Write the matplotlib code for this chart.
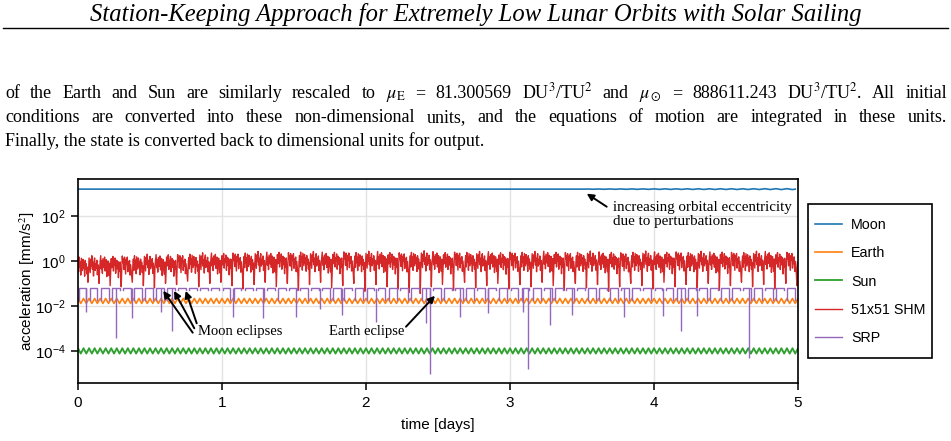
import numpy as np
import matplotlib.pyplot as plt
from matplotlib.patches import Rectangle
from matplotlib.ticker import NullLocator

plt.rcParams['font.family'] = ['Liberation Sans', 'DejaVu Sans']
plt.rcParams['mathtext.fontset'] = 'stix'

# ---- data (log10 of acceleration in mm/s^2) ----
n_days = 5
n_orbits = 65

labels = ['Moon', 'Earth', 'Sun', '51x51 SHM', 'SRP']
colors = ['#1f77b4', '#ff7f0e', '#2ca02c', '#d62728', '#9467bd']

# Moon: central gravity with a small ripple growing late in the run
moon_level = 3.19
moon_wave = [1, 0, -1, 0]
moon_ripple = [0.0] * 43 + [0.002, 0.003, 0.004, 0.005, 0.006, 0.007, 0.008, 0.009,
                            0.010, 0.011, 0.012, 0.012, 0.013, 0.014, 0.014, 0.015,
                            0.016, 0.016, 0.017, 0.018, 0.019, 0.020]

# Earth and Sun third-body terms, two tidal cycles per orbit
earth_orbit = [-1.67, -1.78, -1.89, -1.78, -1.67, -1.78, -1.89, -1.78]
sun_orbit = [-3.88, -4.00, -4.12, -4.00, -3.88, -4.00, -4.12, -4.00]

# 51x51 spherical harmonics: jagged orbit shapes (index 18 is the dip),
# per-orbit level and dip depth
shm_shapes = [
    [0.20, -0.30, 0.35, -0.10, 0.15, -0.45, 0.30, 0.00, -0.25, 0.25,
     -0.15, 0.10, -0.50, 0.20, -0.20, 0.05, -0.40, -0.10, -1.0, -0.30],
    [0.30, 0.00, -0.35, 0.25, -0.05, 0.40, -0.20, 0.10, -0.50, 0.15,
     0.30, -0.25, 0.05, -0.15, 0.20, -0.45, 0.00, -0.30, -1.0, -0.15],
    [0.10, 0.38, -0.20, 0.15, -0.40, 0.25, 0.05, -0.15, 0.32, -0.30,
     0.00, 0.20, -0.55, -0.05, 0.15, -0.25, -0.50, 0.05, -1.0, -0.40],
    [0.25, -0.15, 0.05, 0.35, -0.30, 0.10, -0.05, 0.28, -0.40, 0.00,
     0.18, -0.20, 0.12, -0.60, 0.05, -0.30, 0.10, -0.45, -1.0, -0.20],
    [0.35, 0.05, 0.22, -0.25, 0.30, -0.10, -0.45, 0.20, 0.00, 0.30,
     -0.35, 0.08, -0.15, 0.15, -0.50, -0.05, -0.30, -0.60, -1.0, -0.10],
]
shm_level = [-0.18, -0.17, -0.15, -0.15, -0.13, -0.12, -0.10, -0.10,
             -0.08, -0.07, -0.05, -0.04, -0.03, -0.02, 0.00, 0.00,
             0.02, 0.01, 0.03, 0.02, 0.04, 0.02, 0.01, 0.03, 0.05, 0.02,
             0.03, 0.04, 0.02, 0.01, 0.03, 0.05, 0.03, 0.02, 0.04, 0.03,
             0.02, 0.03, 0.01, 0.04, 0.03, 0.02, 0.05, 0.03, 0.02, 0.03,
             0.04, 0.02, 0.03, 0.01, 0.03, 0.04, 0.02, 0.03, 0.05, 0.02,
             0.03, 0.02, 0.04, 0.03, 0.02, 0.03, 0.04, 0.02, 0.03]
shm_dip = [-0.95, -1.00, -1.10, -1.15, -0.95, -1.10, -1.20, -1.00, -1.05, -0.90,
           -1.15, -1.00, -0.95, -1.10, -1.25, -1.05, -0.95, -1.15, -1.00, -1.30,
           -1.05, -0.95, -1.20, -1.10, -1.00, -1.35, -1.05, -1.15, -1.25, -1.40,
           -1.45, -1.15, -1.05, -1.30, -0.95, -1.20, -1.10, -1.00, -1.25, -1.05,
           -1.15, -0.95, -1.10, -1.30, -1.00, -1.20, -1.05, -1.35, -1.15, -1.00,
           -1.10, -1.25, -0.95, -1.15, -1.05, -1.20, -1.00, -1.30, -1.10, -0.95,
           -1.15, -1.05, -1.25, -1.00, -1.10]

# SRP: one sunlit arc per orbit, legs at shadow exit / entry, deep penumbra spikes
srp_top = -1.20
srp_arc = (0.05, 0.76)
srp_leg_in = [-1.72, -1.72, -1.72, -1.72, -1.30, -1.72, -1.72, -1.72, -1.72, -1.30,
              -1.30, -1.30, -1.30, -1.30, -1.72, -1.30, -1.30, -1.30, -1.72, -1.30,
              -1.30, -1.30, -1.30, -1.72, -1.72, -1.72, -1.72, -1.30, -1.72, -1.30,
              -1.72, -1.72, -1.30, -1.72, -1.30, -1.72, -1.30, -1.72, -1.72, -1.30,
              -1.72, -1.72, -1.30, -1.72, -1.30, -1.30, -1.72, -1.72, -1.72, -1.30,
              -1.72, -1.30, -1.30, -1.30, -1.72, -1.72, -1.30, -1.72, -1.72, -1.72,
              -1.30, -1.72, -1.30, -1.72, -1.72]
srp_leg_out = [-1.72, -1.72, -1.72, -1.30, -1.72, -1.72, -1.72, -1.72, -1.30, -1.30,
               -1.30, -1.30, -1.30, -1.72, -1.30, -1.30, -1.72, -1.30, -1.30, -1.30,
               -1.72, -1.30, -1.72, -1.72, -1.30, -1.72, -1.30, -1.72, -1.72, -1.72,
               -1.30, -1.72, -1.72, -1.30, -1.72, -1.72, -1.72, -1.30, -1.72, -1.72,
               -1.30, -1.72, -1.72, -1.30, -1.72, -1.30, -1.72, -1.30, -1.72, -1.72,
               -1.30, -1.72, -1.30, -1.72, -1.72, -1.30, -1.72, -1.30, -1.72, -1.30,
               -1.72, -1.72, -1.72, -1.30, -1.72]
spike_days = [0.056, 0.262, 0.373, 0.576, 0.653, 1.076, 1.285, 1.514, 1.681, 1.831,
              2.069, 2.417, 2.444, 2.653, 2.847, 3.088, 3.123, 3.278, 3.428, 3.792,
              4.060, 4.185, 4.297, 4.658]
spike_log = [-2.25, -3.42, -2.53, -2.25, -3.10, -2.50, -2.55, -2.48, -2.15, -2.40,
             -2.70, -2.76, -5.02, -2.50, -2.30, -2.25, -4.80, -2.84, -2.40, -2.49,
             -2.45, -3.10, -2.45, -4.31]

x_ticks = [0, 1, 2, 3, 4, 5]
y_ticks = [1e-4, 1e-2, 1e0, 1e2]

# ---- build series ----
P = n_days / n_orbits


def tiled(orbit_vals):
    n = len(orbit_vals)
    t = np.arange(n_orbits * n + 1) * P / n
    v = np.array(list(orbit_vals) * n_orbits + [orbit_vals[0]])
    return t, v


moon_vals = []
for amp in moon_ripple:
    moon_vals += [moon_level + amp * w for w in moon_wave]
moon_t = np.arange(len(moon_vals)) * P / len(moon_wave)
moon_vals = np.array(moon_vals)

earth_t, earth_v = tiled(earth_orbit)
sun_t, sun_v = tiled(sun_orbit)

n_shm = len(shm_shapes[0])
shm_vals = []
for i in range(n_orbits):
    s = [x + shm_level[i] for x in shm_shapes[i % len(shm_shapes)]]
    s[18] = shm_dip[i]
    shm_vals += s
shm_t = np.arange(len(shm_vals)) * P / n_shm
shm_vals = np.array(shm_vals)

srp_t, srp_v = [], []
for k in range(n_orbits):
    t0 = (k + srp_arc[0]) * P
    t1 = (k + srp_arc[1]) * P
    srp_t += [t0, t0, t1, t1, np.nan]
    srp_v += [srp_leg_in[k], srp_top, srp_top, srp_leg_out[k], np.nan]
srp_t = np.array(srp_t)
srp_v = np.array(srp_v)

# ---- figure ----
W, H = 951, 441
fig = plt.figure(figsize=(W / 100, H / 100), dpi=100)

ax = fig.add_axes([78 / W, 1 - 383.3 / H, 720 / W, (383.3 - 179) / H])
ax.plot(moon_t, 10 ** moon_vals, color=colors[0], lw=1.2, label=labels[0])
ax.plot(earth_t, 10 ** earth_v, color=colors[1], lw=1.2, label=labels[1])
ax.plot(sun_t, 10 ** sun_v, color=colors[2], lw=1.3, label=labels[2])
ax.plot(shm_t, 10 ** shm_vals, color=colors[3], lw=1.0, label=labels[3])
ax.plot(srp_t, 10 ** srp_v, color=colors[4], lw=1.0, label=labels[4])
ax.vlines(spike_days, 10 ** np.array(spike_log), 10 ** srp_top, color=colors[4], lw=1.0)

ax.set_yscale('log')
ax.set_xlim(0, 5)
ax.set_ylim(10 ** -5.44, 10 ** 3.64)
ax.set_xticks(x_ticks)
ax.set_yticks(y_ticks)
ax.yaxis.set_minor_locator(NullLocator())
ax.grid(True, color='#e3e3e3', lw=1.0)
ax.set_axisbelow(True)
for sp in ax.spines.values():
    sp.set_linewidth(1.2)
ax.tick_params(direction='out', length=5, width=1.1, labelsize=11, pad=4)
ax.set_xlabel('time [days]', fontsize=11, labelpad=6)
ax.set_ylabel('acceleration [mm/s$^2$]', fontsize=11, labelpad=-2)

# legend: entries without frame, box drawn separately
leg = ax.legend(loc='center left', bbox_to_anchor=(815 / W, 1 - 281.5 / H),
                bbox_transform=fig.transFigure, borderaxespad=0, borderpad=0,
                fontsize=10.3, frameon=False, handlelength=1.9,
                handletextpad=0.62, labelspacing=0.98)
fig.add_artist(Rectangle((808 / W, 1 - 358 / H), 124 / W, 154 / H,
                         transform=fig.transFigure, fill=False,
                         edgecolor='black', lw=1.2))

# annotations
serif = ['Liberation Serif', 'DejaVu Serif']
arrow = dict(arrowstyle='-|>', color='black', lw=1.4, mutation_scale=10,
             shrinkA=0, shrinkB=0)


def px(x, y):
    return (x, H - y)


ax.annotate('', xy=(3.533, 10 ** 2.99), xytext=px(606.7, 206.7),
            textcoords='figure pixels', arrowprops=arrow)
fig.text(613 / W, 1 - 214 / H, 'increasing orbital eccentricity\ndue to perturbations',
         family=serif, fontsize=10.8, va='center', ha='left', linespacing=1.1)
for hx, tx, ty in [(0.592, 192.7, 332.7), (0.667, 194.3, 328.3), (0.748, 196.7, 323.3)]:
    ax.annotate('', xy=(hx, 10 ** -1.33), xytext=px(tx, ty),
                textcoords='figure pixels', arrowprops=arrow)
fig.text(198 / W, 1 - 331 / H, 'Moon eclipses', family=serif, fontsize=10.5,
         va='center', ha='left')
ax.annotate('', xy=(2.479, 10 ** -1.55), xytext=px(406, 326.7),
            textcoords='figure pixels', arrowprops=arrow)
fig.text(404 / W, 1 - 331 / H, 'Earth eclipse', family=serif, fontsize=10.5,
         va='center', ha='right')

# page header and body text
fig.text(476 / W, 1 - 21 / H,
         'Station-Keeping Approach for Extremely Low Lunar Orbits with Solar Sailing',
         family=serif, style='italic', fontsize=17.7, ha='center', va='baseline')
fig.add_artist(plt.Line2D([3 / W, 948 / W], [1 - 27.5 / H] * 2, color='black', lw=1.0))

body = [
    ('of the Earth and Sun are similarly rescaled to $\\mu_\\mathrm{E}$ = 81.300569 '
     'DU$^3$/TU$^2$ and $\\mu_\\odot$ = 888611.243 DU$^3$/TU$^2$. All initial', 98, True),
    ('conditions are converted into these non-dimensional units, and the equations '
     'of motion are integrated in these units.', 122, True),
    ('Finally, the state is converted back to dimensional units for output.', 146, False),
]
renderer = fig.canvas.get_renderer()
x_left, x_right = 5, 947
for line, yb, justify in body:
    if not justify:
        fig.text(x_left / W, 1 - yb / H, line, family=serif, fontsize=13,
                 ha='left', va='baseline')
        continue
    words = line.split(' ')
    arts = [fig.text(0, 1 - yb / H, w, family=serif, fontsize=13, ha='left',
                     va='baseline') for w in words]
    widths = [a.get_window_extent(renderer).width for a in arts]
    gap = (x_right - x_left - sum(widths)) / (len(words) - 1)
    x = x_left
    for a, w in zip(arts, widths):
        a.set_x(x / W)
        x += w + gap

fig.savefig('out.png', dpi=100)
